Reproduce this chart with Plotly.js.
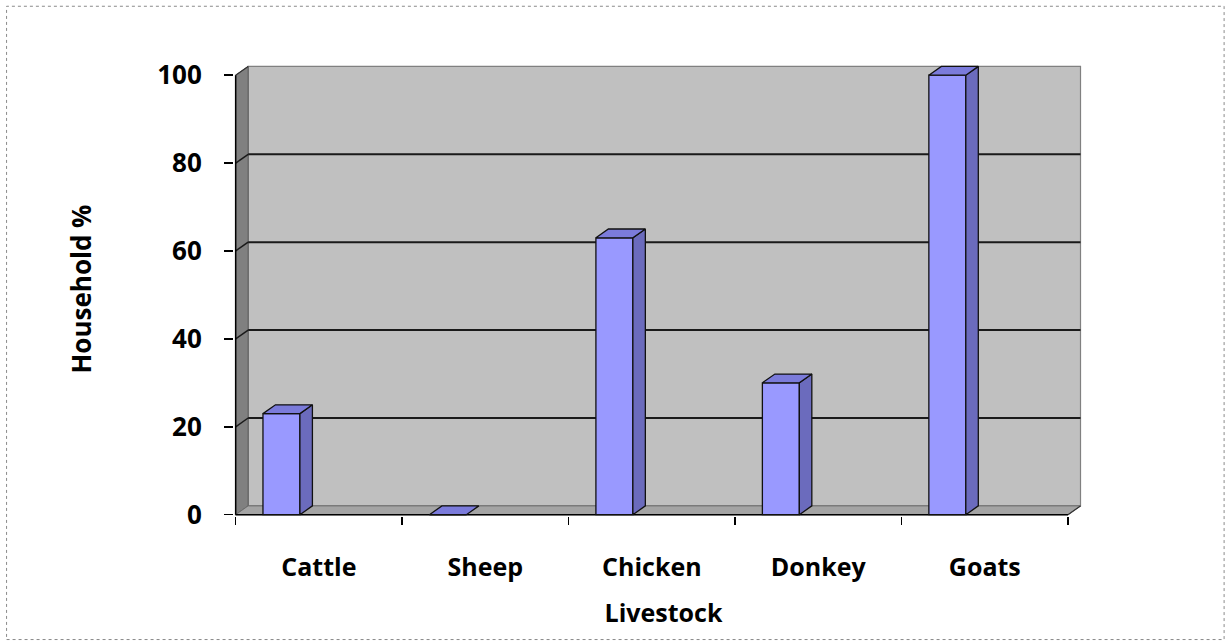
<!DOCTYPE html>
<html>
<head>
<meta charset="utf-8">
<script src="https://cdn.plot.ly/plotly-3.0.1.min.js"></script>
<style>
  html, body { margin: 0; padding: 0; background: #ffffff; }
  #chart { width: 1230px; height: 642px; }
</style>
</head>
<body>
<div id="chart"></div>
<script>
// Share of households keeping each kind of livestock
const categories = ['Cattle', 'Sheep', 'Chicken', 'Donkey', 'Goats'];
const householdPct = [23, 0, 63, 30, 100];
const yTicks = [0, 20, 40, 60, 80, 100];

// Pseudo-3D geometry (axis units)
const DEPTH_X = 0.075;   // horizontal depth offset
const DEPTH_Y = 2.0;     // vertical depth offset
const BAR_OFFSET = -0.336;
const BAR_WIDTH = 0.222;

// Pixel frame of the plotting box
const W = 1230, H = 642;
const PX_PER_X = 166.4, PX_PER_Y = 4.4;
const ORIGIN_PX = [236, 515];        // pixel of (x=-0.5, y=0)
const X_RANGE = [-0.51, 4.65];
const Y_RANGE = [-0.3, 103];

const plotLeft = ORIGIN_PX[0] + (X_RANGE[0] + 0.5) * PX_PER_X;
const plotWidth = (X_RANGE[1] - X_RANGE[0]) * PX_PER_X;
const plotBottom = ORIGIN_PX[1] - Y_RANGE[0] * PX_PER_Y;
const plotHeight = (Y_RANGE[1] - Y_RANGE[0]) * PX_PER_Y;
const margin = {
  l: plotLeft,
  r: W - plotLeft - plotWidth,
  t: plotBottom - plotHeight,
  b: H - plotBottom,
  pad: 0,
  autoexpand: false
};
const toPaperX = px => (px - plotLeft) / plotWidth;
const toPaperY = py => (plotBottom - py) / plotHeight;

const xs = categories.map((_, i) => i);
const x0 = -0.5, x1 = categories.length - 0.5;

const FRONT = '#9999ff', SIDE = '#6b6bbd', TOP = '#7b7bdb', EDGE = '#111111';
const font = { family: 'Open Sans, Liberation Sans, sans-serif', size: 25, color: '#000', weight: 'bold' };

// Front faces of the bars
const traces = [{
  type: 'bar',
  x: xs,
  y: householdPct,
  width: BAR_WIDTH,
  offset: BAR_OFFSET,
  marker: { color: FRONT, line: { color: EDGE, width: 1.3 } },
  hoverinfo: 'skip',
  showlegend: false
}];

// Side and top faces built from each bar's value
householdPct.forEach((v, i) => {
  const L = i + BAR_OFFSET, R = L + BAR_WIDTH;
  if (v > 0) {
    traces.push({
      type: 'scatter', mode: 'lines', fill: 'toself', fillcolor: SIDE,
      x: [R, R, R + DEPTH_X, R + DEPTH_X, R],
      y: [0, v, v + DEPTH_Y, DEPTH_Y, 0],
      line: { color: EDGE, width: 1.3 }, hoverinfo: 'skip', showlegend: false
    });
  }
  traces.push({
    type: 'scatter', mode: 'lines', fill: 'toself', fillcolor: TOP,
    x: [L, R, R + DEPTH_X, L + DEPTH_X, L],
    y: [v, v, v + DEPTH_Y, v + DEPTH_Y, v],
    line: { color: EDGE, width: 1.3 }, hoverinfo: 'skip', showlegend: false
  });
});

// Walls, floor, gridlines and front edges
const shapes = [];
const path = pts => 'M' + pts.map(p => p[0] + ',' + p[1]).join(' L') + ' Z';
const line = (xa, ya, xb, yb, color, width) => ({
  type: 'line', xref: 'x', yref: 'y', x0: xa, y0: ya, x1: xb, y1: yb,
  line: { color: color, width: width }, layer: 'below'
});

// back wall
shapes.push({
  type: 'rect', xref: 'x', yref: 'y', layer: 'below',
  x0: x0 + DEPTH_X, x1: x1 + DEPTH_X, y0: DEPTH_Y, y1: 100 + DEPTH_Y,
  fillcolor: '#c0c0c0', line: { color: '#808080', width: 1.2 }
});
// left side wall
shapes.push({
  type: 'path', xref: 'x', yref: 'y', layer: 'below',
  path: path([[x0, 0], [x0, 100], [x0 + DEPTH_X, 100 + DEPTH_Y], [x0 + DEPTH_X, DEPTH_Y]]),
  fillcolor: '#808080', line: { color: '#5a5a5a', width: 1 }
});
// floor
shapes.push({
  type: 'path', xref: 'x', yref: 'y', layer: 'below',
  path: path([[x0, 0], [x1, 0], [x1 + DEPTH_X, DEPTH_Y], [x0 + DEPTH_X, DEPTH_Y]]),
  fillcolor: '#a4a4a4', line: { color: '#6e6e6e', width: 1 }
});
// gridlines on the back and side walls
yTicks.filter(t => t > 0 && t < 100).forEach(t => {
  shapes.push(line(x0 + DEPTH_X, t + DEPTH_Y, x1 + DEPTH_X, t + DEPTH_Y, '#1a1a1a', 2));
  shapes.push(line(x0, t, x0 + DEPTH_X, t + DEPTH_Y, '#1a1a1a', 1.5));
});
// front edges of the box
shapes.push(line(x0, 0, x0, 100, '#000', 1.5));
shapes.push(line(x0, 0, x1, 0, '#000', 1.5));
shapes.push(line(x1, 0, x1 + DEPTH_X, DEPTH_Y, '#333', 1.2));
shapes.push(line(x0, 100, x0 + DEPTH_X, 100 + DEPTH_Y, '#333', 1.2));

// dashed frame round the whole figure
shapes.push({
  type: 'rect', xref: 'paper', yref: 'paper', layer: 'above',
  x0: toPaperX(7), x1: toPaperX(1224), y0: toPaperY(640), y1: toPaperY(6),
  line: { color: '#8a8a8a', width: 1, dash: 'dot' }
});

const layout = {
  width: W, height: H,
  margin: margin,
  paper_bgcolor: '#ffffff',
  plot_bgcolor: 'rgba(0,0,0,0)',
  showlegend: false,
  hovermode: false,
  barmode: 'overlay',
  font: font,
  xaxis: {
    type: 'linear',
    range: X_RANGE,
    tickmode: 'array',
    tickvals: xs,
    ticktext: categories,
    ticks: '',
    ticklabelstandoff: 34,
    tickfont: font,
    showgrid: false, zeroline: false, showline: false,
    minor: {
      tickmode: 'array',
      tickvals: categories.concat(['']).map((_, i) => i - 0.5),
      ticks: 'outside', ticklen: 8, tickwidth: 1.5, tickcolor: '#000',
      showgrid: false
    },
    title: { text: 'Livestock', font: font, standoff: 22 },
    fixedrange: true
  },
  yaxis: {
    range: Y_RANGE,
    tickmode: 'array',
    tickvals: yTicks,
    ticks: 'outside', ticklen: 9, tickwidth: 1.5, tickcolor: '#000',
    ticklabelstandoff: 17,
    tickfont: Object.assign({}, font, { size: 26 }),
    showgrid: false, zeroline: false, showline: false,
    title: { text: 'Household %', font: Object.assign({}, font, { size: 26 }), standoff: 58 },
    fixedrange: true
  },
  shapes: shapes
};

Plotly.newPlot('chart', traces, layout, { staticPlot: true, displayModeBar: false });
</script>
</body>
</html>
